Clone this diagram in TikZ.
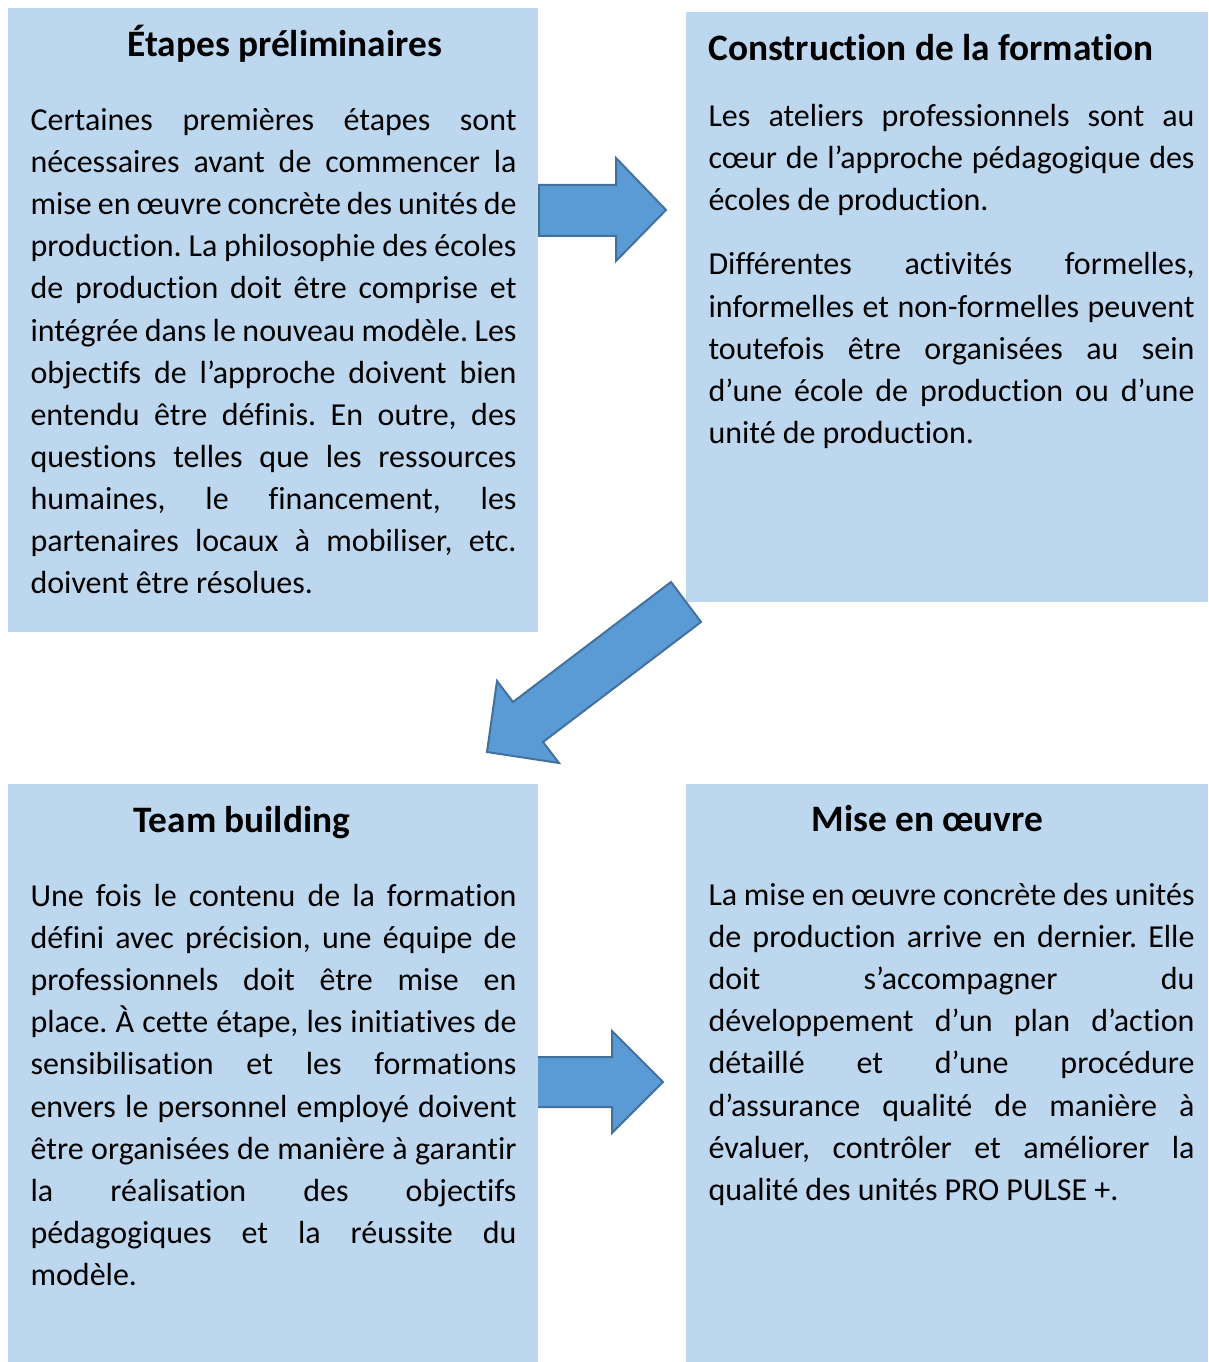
\documentclass[tikz,border=0pt]{standalone}
\usepackage{fontspec}
\setmainfont{Carlito}[Ligatures=NoCommon]
\definecolor{boxfill}{HTML}{BDD7EE}
\definecolor{arrfill}{HTML}{5B9BD5}
\definecolor{arrline}{HTML}{41719C}
\newcommand\jl[1]{\makebox[182.25pt][s]{\spaceskip=0.2207em plus 1fil minus 0.08em\relax #1}}
\newcommand\lastl[1]{\makebox[182.25pt][l]{\spaceskip=0.2207em\relax #1}}
\newcommand\titlefont{\fontsize{14}{17}\selectfont\bfseries}
\newcommand\bodyfont{\fontsize{12}{15.79}\selectfont}
\frenchspacing
\begin{document}
\begin{tikzpicture}[x=0.375pt,y=-0.375pt,
  panel/.style={fill=boxfill, draw=none, inner sep=0pt, outer sep=0pt, anchor=north west},
  title/.style={anchor=base west, inner sep=0pt, font=\titlefont},
  body/.style={anchor=base west, inner sep=0pt, text width=182.25pt, font=\bodyfont},
  blockarrow/.style={fill=arrfill, draw=arrline, line width=0.75pt, line join=miter}]
\useasboundingbox (0,0) rectangle (1208,1362);
% arrow 3 lies under the lower left panel
\draw[blockarrow] (500,1057) -- (612,1057) -- (612,1031) -- (663,1082) -- (612,1133) -- (612,1107) -- (500,1107) -- cycle;
% panels
\node[panel, minimum width=198.75pt, minimum height=234pt] (p1) at (8,8) {};
\node[panel, minimum width=195.75pt, minimum height=221.25pt] (p2) at (686,12) {};
\node[panel, minimum width=198.75pt, minimum height=216.75pt] (p3) at (8,784) {};
\node[panel, minimum width=195.75pt, minimum height=216.75pt] (p4) at (686,784) {};
% arrows 1 and 2
\draw[blockarrow] (539,185) -- (616,185) -- (616,158) -- (666,210) -- (616,261) -- (616,236) -- (539,236) -- cycle;
\draw[blockarrow] (671,582) -- (701,622) -- (543,742) -- (559,763) -- (487,752) -- (497,681) -- (513,702) -- cycle;
% titles
\node[title] (t1) at (127,57) {\lastl{Étapes préliminaires}};
\node[title] (t2) at (708,61) {\lastl{Construction de la formation}};
\node[title] (t3) at (133,832) {\lastl{Team building}};
\node[title] (t4) at (811,831) {\lastl{Mise en œuvre}};
% bodies
\node[body] (b1) at (30,130.5) {\jl{Certaines premières étapes sont}\\
\jl{nécessaires avant de commencer la}\\
\jl{mise en œuvre concrète des unités de}\\
\jl{production. La philosophie des écoles}\\
\jl{de production doit être comprise et}\\
\jl{intégrée dans le nouveau modèle. Les}\\
\jl{objectifs de l’approche doivent bien}\\
\jl{entendu être définis. En outre, des}\\
\jl{questions telles que les ressources}\\
\jl{humaines, le financement, les}\\
\jl{partenaires locaux à mobiliser, etc.}\\
\lastl{doivent être résolues.}};
\node[body] (b2) at (708,126.5) {\jl{Les ateliers professionnels sont au}\\
\jl{cœur de l’approche pédagogique des}\\
\lastl{écoles de production.}\\[8.3pt]
\jl{Différentes activités formelles,}\\
\jl{informelles et non-formelles peuvent}\\
\jl{toutefois être organisées au sein}\\
\jl{d’une école de production ou d’une}\\
\lastl{unité de production.}};
\node[body] (b3) at (30,906.5) {\jl{Une fois le contenu de la formation}\\
\jl{défini avec précision, une équipe de}\\
\jl{professionnels doit être mise en}\\
\jl{place. À cette étape, les initiatives de}\\
\jl{sensibilisation et les formations}\\
\jl{envers le personnel employé doivent}\\
\jl{être organisées de manière à garantir}\\
\jl{la réalisation des objectifs}\\
\jl{pédagogiques et la réussite du}\\
\lastl{modèle.}};
\node[body] (b4) at (708,905.5) {\jl{La mise en œuvre concrète des unités}\\
\jl{de production arrive en dernier. Elle}\\
\jl{doit s’accompagner du}\\
\jl{développement d’un plan d’action}\\
\jl{détaillé et d’une procédure}\\
\jl{d’assurance qualité de manière à}\\
\jl{évaluer, contrôler et améliorer la}\\
\lastl{qualité des unités PRO PULSE +.}};
\end{tikzpicture}
\end{document}
